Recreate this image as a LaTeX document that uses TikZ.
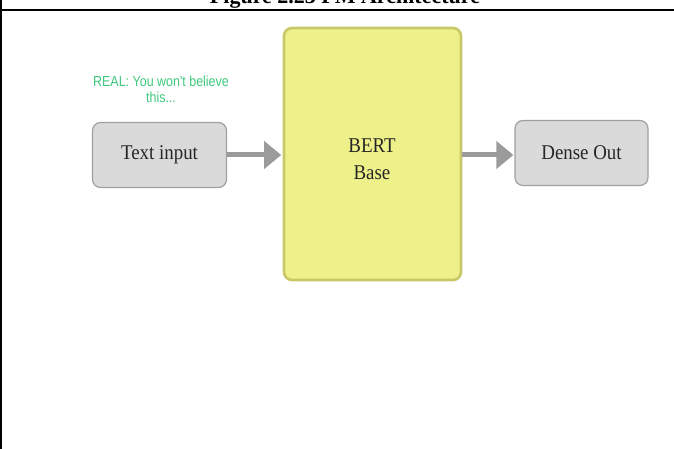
\documentclass[tikz,border=0pt]{standalone}
\usepackage{fontspec}
\setmainfont{Liberation Serif}[FakeStretch=0.9]
\newfontfamily\narrowsans[FakeStretch=0.86]{Liberation Sans}
\newfontfamily\titlefont{Liberation Serif}
\usetikzlibrary{arrows.meta}
\definecolor{boxgrey}{RGB}{218,218,218}
\definecolor{boxedge}{RGB}{160,160,160}
\definecolor{bertfill}{RGB}{238,241,138}
\definecolor{bertedge}{RGB}{200,200,105}
\definecolor{arrgrey}{RGB}{155,155,155}
\definecolor{realgreen}{RGB}{62,200,125}
\tikzset{
  x=1pt, y=-1pt,
  greybox/.style={draw=boxedge, line width=1.2pt, fill=boxgrey, rounded corners=8pt,
    minimum width=134pt, minimum height=65pt, inner sep=0pt,
    font=\fontsize{21}{23}\selectfont, text=black!85},
  bertbox/.style={draw=bertedge, line width=2.6pt, fill=bertfill, rounded corners=8pt,
    minimum width=177pt, minimum height=252pt, inner sep=0pt},
  bertlabel/.style={align=center, inner sep=0pt,
    font=\fontsize{21}{27}\selectfont, text=black!85},
  flowarrow/.style={draw=arrgrey, line width=5pt,
    -{Triangle[length=17pt,width=27pt]}, arrgrey},
  greennote/.style={align=center, text=realgreen, inner sep=0pt,
    font=\narrowsans\fontsize{14.5}{16}\selectfont},
}
\begin{document}
\begin{tikzpicture}
\useasboundingbox (0,0) rectangle (674,449);
\node[anchor=base, inner sep=0pt, font=\titlefont\bfseries\fontsize{22}{24}\selectfont] (title) at (345,4) {Figure 2.23 FM Architecture};
\draw[line width=2pt] (0,10) -- (674,10);
\draw[line width=1.5pt] (0.75,0) -- (0.75,449);

\node[greennote] (note) at (161,89) {REAL: You won't believe\\this...};
\node[greybox] (txt) at (159.5,155) {Text input};
\node[bertbox] (bert) at (372.5,154) {};
\node[bertlabel] (berttext) at (372,159) {BERT\\Base};
\node[greybox, minimum width=133pt] (dense) at (581.5,153) {Dense Out};

\draw[flowarrow, shorten >=1.5pt] (txt.east) -- (txt.east -| bert.west);
\draw[flowarrow, shorten >=1pt] (bert.east |- txt.east) -- (txt.east -| dense.west);
\end{tikzpicture}
\end{document}
